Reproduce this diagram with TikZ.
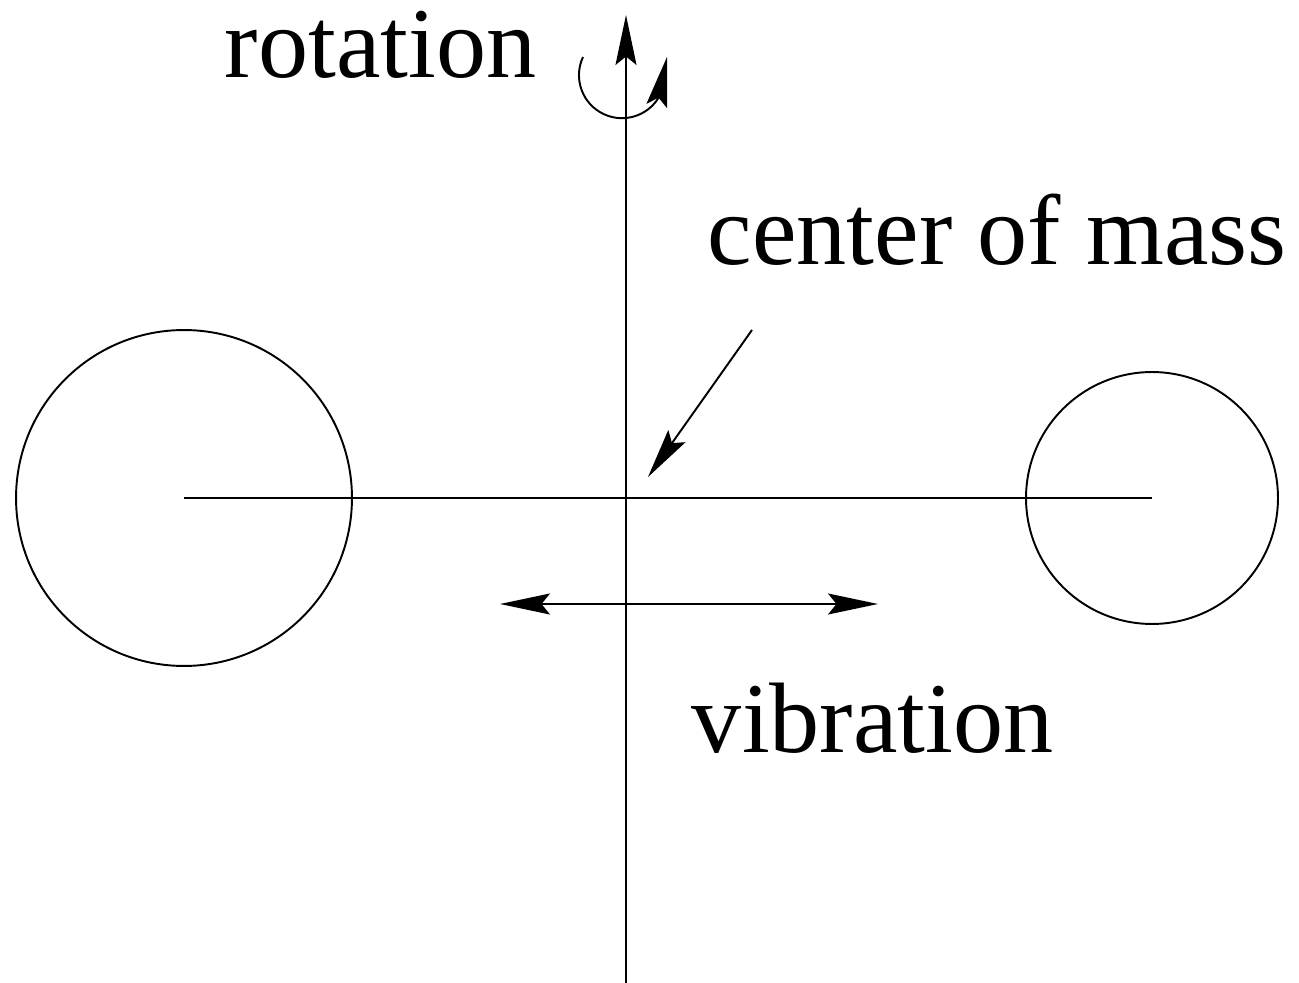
\documentclass[tikz,border=0pt]{standalone}
\usepackage{fontspec}
\setmainfont{Liberation Serif}
\usetikzlibrary{positioning, arrows.meta}

\begin{document}
\begin{tikzpicture}[x=0.02cm, y=-0.02cm, >={Stealth[length=1cm, width=0.42cm, inset=0.17cm]},
  line width=1.1pt,
  mass/.style={circle, draw, inner sep=0pt},
  caption/.style={anchor=base west, inner sep=0pt, font=\fontsize{57}{60}\selectfont}]
  \useasboundingbox (0,0) rectangle (1299,983);
  % masses and bond
  \node[mass, minimum size=6.72cm] (heavy) at (184,498) {};
  \node[mass, minimum size=5.04cm] (light) at (1152,498) {};
  \draw (heavy.center) -- (light.center);
  % rotation axis
  \coordinate (com) at (626,498);
  \coordinate (axtop) at (626,15);
  \coordinate (axbot) at (626,983);
  \draw[->] (axbot) -- (axtop);
  \draw[->] (583,57) arc[start angle=-155, end angle=-328, radius=43] -- (667,57);
  % labels
  \node[caption] (rot) at (224,78) {rotation};
  \node[caption] (cm) at (707,265) {center of mass};
  \node[caption] (vib) at (691,752) {vibration};
  \coordinate (cmfoot) at (752,330);
  \draw[->] (cmfoot) -- (648,477);
  % vibration arrow
  \coordinate (vl) at (500,604);
  \coordinate (vr) at (878,604);
  \draw[<->] (vl) -- (vr);
\end{tikzpicture}
\end{document}
